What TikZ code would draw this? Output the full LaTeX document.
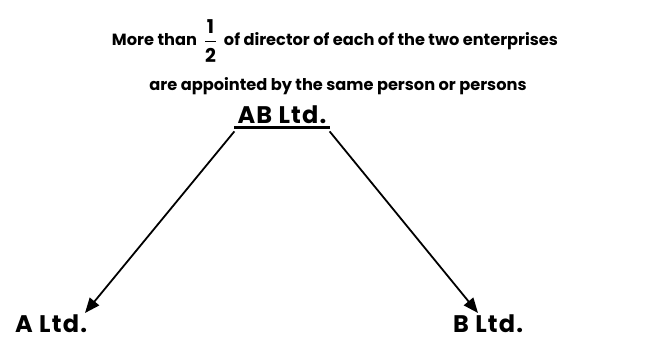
\documentclass[tikz,border=0pt]{standalone}
\usepackage{amsmath}
\usepackage{fontspec}
\setmainfont{Poppins}[BoldFont={Poppins Bold}]
\usepackage{tikz}
\usetikzlibrary{arrows.meta, positioning, calc}
\newcommand{\fracdigit}[1]{\text{\fontsize{19}{22}\selectfont\bfseries #1}}

\begin{document}
\begin{tikzpicture}[
  x=1pt, y=1pt,
  head/.style={font=\fontsize{16.2}{19}\selectfont\bfseries, inner sep=0pt, align=center},
  firm/.style={font=\fontsize{24}{28}\selectfont\bfseries\addfontfeature{LetterSpace=5}, inner sep=2pt},
  link/.style={-{Triangle[length=15pt, width=12pt]}, line width=1.8pt},
]
  \useasboundingbox (0,0) rectangle (666,341);

  \node[head] (title) at (335,300) {More than\ \ $\dfrac{\fracdigit{1}\rule[-5pt]{0pt}{5pt}}{\rule{0pt}{19pt}\fracdigit{2}}$\ \ of director of each of the two enterprises};
  \node[head, anchor=base] (sub) at (338,251) {are appointed by the same person or persons};

  \node[firm, anchor=base, inner ysep=4pt, inner xsep=3pt] (ab) at (282,218) {AB Ltd.};
  \draw[line width=2.5pt] (ab.south west) -- (ab.south east);

  \node[firm, anchor=base west] (a) at (13,9) {A Ltd.};
  \node[firm, anchor=base west] (b) at (451,9) {B Ltd.};

  \coordinate (atip) at (85,28);
  \coordinate (btip) at (478,28);

  \draw[link] ([yshift=-4pt]ab.south west) -- (atip);
  \draw[link] ([yshift=-4pt]ab.south east) -- (btip);
\end{tikzpicture}
\end{document}
